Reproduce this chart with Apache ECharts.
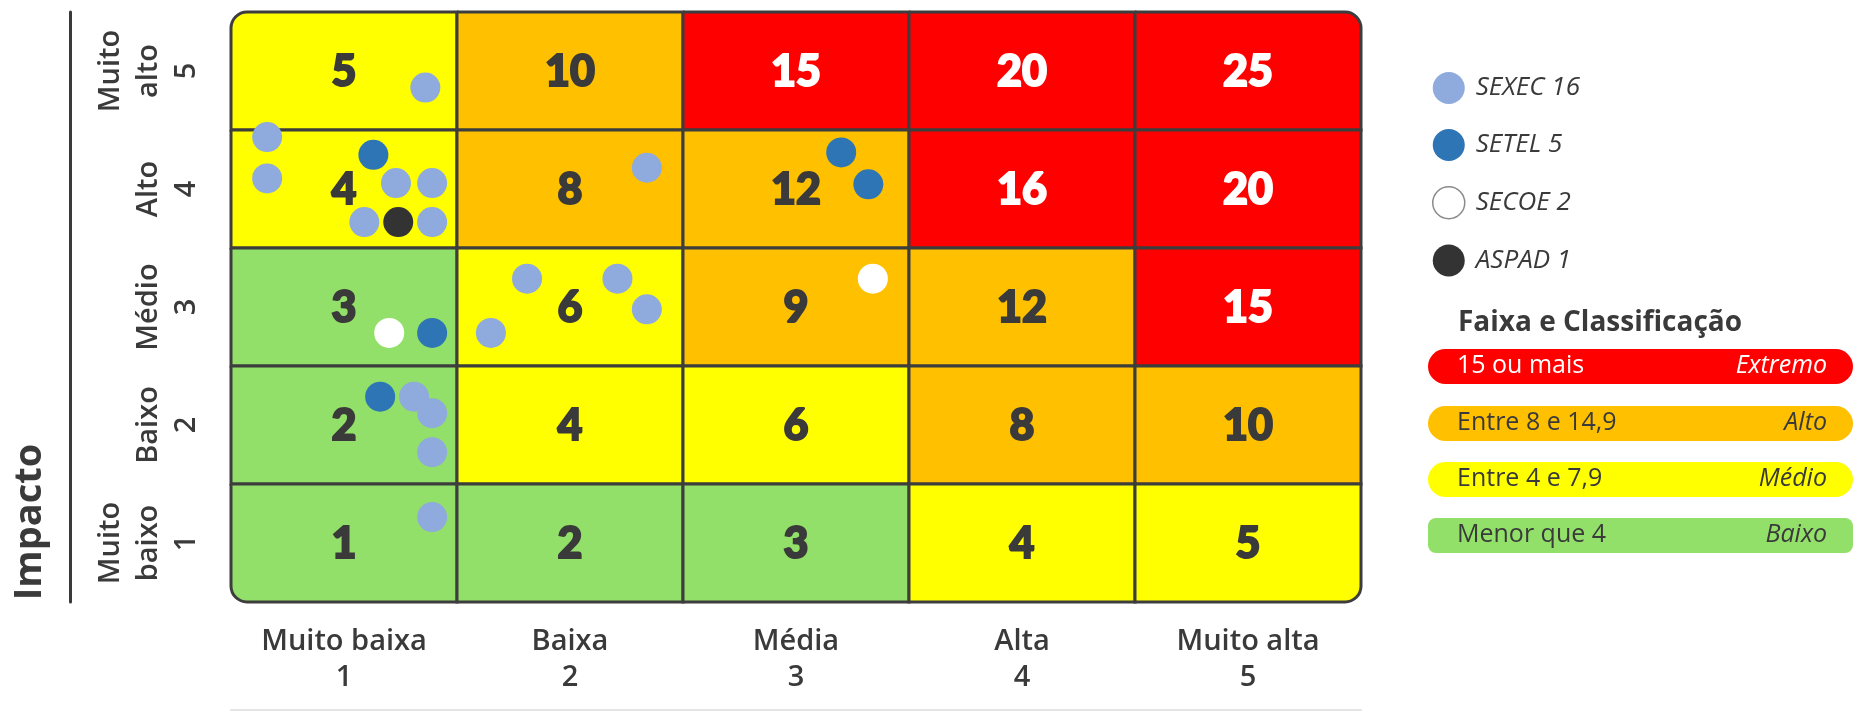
<!DOCTYPE html>
<html><head><meta charset="utf-8">
<script src="https://cdn.jsdelivr.net/npm/echarts@6/dist/echarts.min.js"></script>
<style>html,body{margin:0;padding:0;background:#fff}#c{width:1865px;height:711px}</style>
</head><body><div id="c"></div>
<script>
// ---- data ----
const probLabels = ['Muito baixa\n1', 'Baixa\n2', 'Média\n3', 'Alta\n4', 'Muito alta\n5'];
const impactLabels = ['Muito\nbaixo\n1', 'Baixo\n2', 'Médio\n3', 'Alto\n4', 'Muito\nalto\n5'];
// cell values, rows from impact 5 (top) to impact 1 (bottom)
const scores = [
  [5, 10, 15, 20, 25],
  [4, 8, 12, 16, 20],
  [3, 6, 9, 12, 15],
  [2, 4, 6, 8, 10],
  [1, 2, 3, 4, 5]
];
// dots: [probability, impact] positions
const sexec = [[1.36,4.86],[0.66,4.44],[0.66,4.09],[1.23,4.05],[1.39,4.05],[1.09,3.72],[1.39,3.72],
               [1.31,2.24],[1.39,2.10],[1.39,1.77],[1.39,1.22],[2.34,4.18],[1.81,3.24],[2.21,3.24],
               [2.34,2.98],[1.65,2.78]];
const setel = [[1.13,4.29],[1.39,2.78],[1.16,2.24],[3.20,4.31],[3.32,4.04]];
const secoe = [[1.20,2.78],[3.34,3.24]];
const aspad = [[1.24,3.72]];
const bandRanges = ['15 ou mais', 'Entre 8 e 14,9', 'Entre 4 e 7,9', 'Menor que 4'];
const bandNames = ['Extremo', 'Alto', 'Médio', 'Baixo'];
const bandColors = ['#FF0000', '#FFC000', '#FFFF00', '#92E069'];
const bandMin = [15, 8, 4, 0];

// ---- chart ----
const counts = {SEXEC: sexec.length, SETEL: setel.length, SECOE: secoe.length, ASPAD: aspad.length};
const cellData = [];
scores.forEach((row, r) => row.forEach((v, c) => cellData.push([c, 4 - r, v])));
const DARK = '#3a3a3a';
function colorFor(v) {
  for (let i = 0; i < bandMin.length; i++) if (v >= bandMin[i]) return bandColors[i];
  return bandColors[bandColors.length - 1];
}
function renderCell(params, api) {
  const xi = api.value(0), yi = api.value(1), v = api.value(2);
  const c = api.coord([xi, yi]);
  const s = api.size([1, 1]);
  const R = 16;
  const r = [xi === 0 && yi === 4 ? R : 0, xi === 4 && yi === 4 ? R : 0,
             xi === 4 && yi === 0 ? R : 0, xi === 0 && yi === 0 ? R : 0];
  const fg = v >= 15 ? '#ffffff' : DARK;
  return {
    type: 'group',
    children: [
      {type: 'rect', shape: {x: c[0] - s[0] / 2, y: c[1] - s[1] / 2, width: s[0], height: s[1], r: r},
       style: {fill: colorFor(v), stroke: '#3d3d3d', lineWidth: 3}},
      {type: 'text', style: {x: c[0], y: c[1] + 1, text: String(v), align: 'center', verticalAlign: 'middle',
       fontFamily: 'Lato', fontWeight: 900, fontSize: 43, fill: fg, stroke: fg, lineWidth: 2}}
    ]
  };
}
const graphics = [
  {type: 'text', x: 30, y: 522, rotation: Math.PI / 2,
   style: {text: 'Impacto', fontFamily: 'Open Sans', fontWeight: 'bold', fontSize: 38, fill: DARK, align: 'center', verticalAlign: 'middle'}},
  {type: 'text', x: 1458, y: 323,
   style: {text: 'Faixa e Classificação', fontFamily: 'Open Sans', fontWeight: 'bold', fontSize: 28, fill: DARK, align: 'left', verticalAlign: 'middle'}}
];
const bandTops = [349, 406, 462, 518];
bandRanges.forEach((t, i) => {
  const yc = bandTops[i] + 17;
  const fg = i === 0 ? '#ffffff' : DARK;
  graphics.push({type: 'rect', shape: {x: 1428, y: bandTops[i], width: 425, height: 35, r: i === 3 ? 8 : 17.5}, style: {fill: bandColors[i]}});
  graphics.push({type: 'text', x: 1457, y: yc, style: {text: t, fontFamily: 'Open Sans', fontSize: 25, fill: fg, align: 'left', verticalAlign: 'middle'}});
  graphics.push({type: 'text', x: 1827, y: yc, style: {text: bandNames[i], fontFamily: 'Open Sans', fontStyle: 'italic', fontSize: 25, fill: fg, align: 'right', verticalAlign: 'middle'}});
});

const chart = echarts.init(document.getElementById('c'));
chart.setOption({
  animation: false,
  backgroundColor: '#ffffff',
  grid: {left: 231, top: 12, width: 1130, height: 590},
  xAxis: [
    {type: 'category', data: probLabels, position: 'bottom', boundaryGap: true,
     axisLine: {show: false}, axisTick: {show: false}, splitLine: {show: false},
     axisLabel: {margin: 22, fontFamily: 'Open Sans', fontWeight: 600, fontSize: 29, lineHeight: 36, color: DARK}},
    {type: 'value', min: 0.5, max: 5.5, position: 'bottom', offset: 108,
     axisLine: {show: true, lineStyle: {color: '#e4e4e4', width: 2}}, axisTick: {show: false}, axisLabel: {show: false}, splitLine: {show: false}}
  ],
  yAxis: [
    {type: 'category', data: impactLabels, position: 'left', boundaryGap: true,
     axisLine: {show: false}, axisTick: {show: false}, splitLine: {show: false},
     axisLabel: {rotate: 90, margin: 25, fontFamily: 'Open Sans', fontWeight: 600, fontSize: 29, lineHeight: 38, color: DARK}},
    {type: 'value', min: 0.5, max: 5.5, position: 'left', offset: 161,
     axisLine: {show: true, lineStyle: {color: DARK, width: 3}}, axisTick: {show: false}, axisLabel: {show: false}, splitLine: {show: false}}
  ],
  legend: {
    orient: 'vertical', left: 1427, top: 67, itemWidth: 32, itemHeight: 32, itemGap: 25, icon: 'circle',
    data: [{name: 'SEXEC'}, {name: 'SETEL'}, {name: 'SECOE', itemStyle: {borderColor: '#8a8a8a', borderWidth: 1.5}}, {name: 'ASPAD'}],
    formatter: n => n + ' ' + counts[n],
    textStyle: {fontFamily: 'Open Sans', fontStyle: 'italic', fontSize: 26, color: DARK, padding: [0, 0, 0, 6]}
  },
  graphic: graphics,
  series: [
    {type: 'custom', xAxisIndex: 0, yAxisIndex: 0, data: cellData, renderItem: renderCell, clip: false, silent: true, z: 1},
    {name: 'SEXEC', type: 'scatter', xAxisIndex: 1, yAxisIndex: 1, data: sexec, symbolSize: 30, itemStyle: {color: '#8FAADC', opacity: 1}, z: 3},
    {name: 'SETEL', type: 'scatter', xAxisIndex: 1, yAxisIndex: 1, data: setel, symbolSize: 30, itemStyle: {color: '#2E75B6', opacity: 1}, z: 3},
    {name: 'SECOE', type: 'scatter', xAxisIndex: 1, yAxisIndex: 1, data: secoe, symbolSize: 30, itemStyle: {color: '#FFFFFF', opacity: 1}, z: 3},
    {name: 'ASPAD', type: 'scatter', xAxisIndex: 1, yAxisIndex: 1, data: aspad, symbolSize: 30, itemStyle: {color: '#333333', opacity: 1}, z: 3}
  ]
});
</script>
</body></html>
